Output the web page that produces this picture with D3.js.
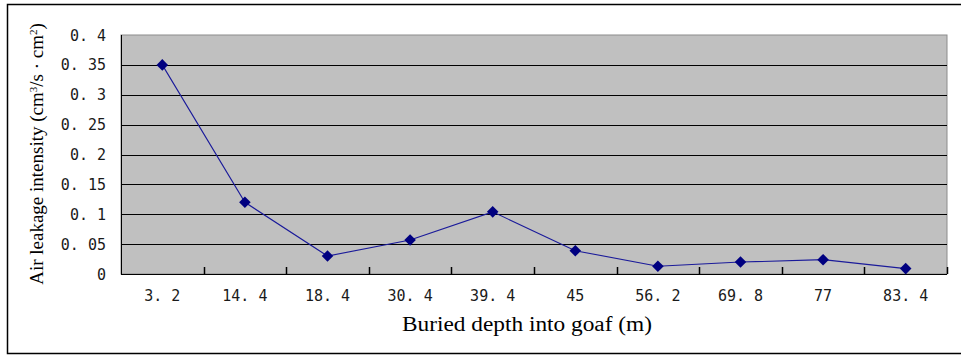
<!DOCTYPE html>
<html>
<head>
<meta charset="utf-8">
<script src="https://cdn.jsdelivr.net/npm/d3@7"></script>
<style>
  body { margin: 0; background: #fff; }
  svg { display: block; }
</style>
</head>
<body>
<svg id="chart" width="961" height="358"></svg>
<script>
// depths along the goaf (category labels)
const depths = ['3.2', '14.4', '18.4', '30.4', '39.4', '45', '56.2', '69.8', '77', '83.4'];
// air leakage intensity
const leakage = [0.35, 0.12, 0.03, 0.057, 0.104, 0.039, 0.013, 0.02, 0.024, 0.009];
const yTicks = [0, 0.05, 0.1, 0.15, 0.2, 0.25, 0.3, 0.35, 0.4];

const svg = d3.select('#chart');

// outer frame (right edge is cut off in the original)
svg.append('path')
  .attr('d', 'M961,4.5 H7.5 V353.5 H961')
  .attr('fill', 'none').attr('stroke', '#000').attr('stroke-width', 1.5);

const plot = {left: 121, top: 35, right: 947, bottom: 274};

const x = d3.scaleBand().domain(depths).range([plot.left, plot.right]);
const y = d3.scaleLinear().domain([0, 0.4]).range([plot.bottom, plot.top]);

// grey plot area
svg.append('rect')
  .attr('x', plot.left).attr('y', plot.top)
  .attr('width', plot.right - plot.left).attr('height', plot.bottom - plot.top)
  .attr('fill', '#c0c0c0').attr('stroke', '#8c8c8c');

// horizontal gridlines
svg.append('g').selectAll('line')
  .data(yTicks.filter(d => d > 0 && d < 0.4))
  .enter().append('line')
  .attr('x1', plot.left).attr('x2', plot.right)
  .attr('y1', d => Math.round(y(d)) + 0.5).attr('y2', d => Math.round(y(d)) + 0.5)
  .attr('stroke', '#000').attr('stroke-width', 1.2);

// left and bottom axis lines
svg.append('line')
  .attr('x1', plot.left + 0.5).attr('x2', plot.left + 0.5)
  .attr('y1', plot.top).attr('y2', plot.bottom)
  .attr('stroke', '#000');
svg.append('line')
  .attr('x1', plot.left).attr('x2', plot.right)
  .attr('y1', plot.bottom + 0.5).attr('y2', plot.bottom + 0.5)
  .attr('stroke', '#000');

// x ticks between categories, pointing up into the plot
svg.append('g').selectAll('line')
  .data(depths.slice(1).concat(['end']))
  .enter().append('line')
  .attr('x1', (d, i) => Math.round(plot.left + x.step() * (i + 1)) + 0.5)
  .attr('x2', (d, i) => Math.round(plot.left + x.step() * (i + 1)) + 0.5)
  .attr('y1', plot.bottom - 7).attr('y2', plot.bottom)
  .attr('stroke', '#000').attr('stroke-width', 1.5);

const mono = '"DejaVu Sans Mono", "Liberation Mono", monospace';

// y tick labels
svg.append('g').selectAll('text')
  .data(yTicks)
  .enter().append('text')
  .attr('x', 106)
  .attr('y', d => y(d) + 5.5)
  .attr('text-anchor', 'end')
  .attr('font-family', mono).attr('font-size', 15)
  .attr('fill', '#1a1a1a')
  .text(d => d === 0 ? '0' : d3.format('.2~f')(d).replace('.', '. '));

// x tick labels
svg.append('g').selectAll('text')
  .data(depths)
  .enter().append('text')
  .attr('x', d => x(d) + x.bandwidth() / 2)
  .attr('y', 300.5)
  .attr('text-anchor', 'middle')
  .attr('font-family', mono).attr('font-size', 15)
  .attr('fill', '#1a1a1a')
  .text(d => d.replace('.', '. '));

// data line
const pts = depths.map((d, i) => [x(d) + x.bandwidth() / 2, y(leakage[i])]);
svg.append('path')
  .datum(pts)
  .attr('d', d3.line())
  .attr('fill', 'none').attr('stroke', '#1a1a9a').attr('stroke-width', 1.1);

// diamond markers
svg.append('g').selectAll('path')
  .data(pts)
  .enter().append('path')
  .attr('transform', d => `translate(${d[0]},${d[1]})`)
  .attr('d', d3.symbol(d3.symbolDiamond2, 85))
  .attr('fill', '#000080');

// axis titles
const serif = '"Liberation Serif", "Times New Roman", serif';
svg.append('text')
  .attr('x', 527).attr('y', 331)
  .attr('text-anchor', 'middle')
  .attr('font-family', serif).attr('font-size', 20)
  .attr('textLength', 250).attr('lengthAdjust', 'spacingAndGlyphs')
  .text('Buried depth into goaf (m)');

const yt = svg.append('text')
  .attr('transform', 'translate(43,154) rotate(-90)')
  .attr('text-anchor', 'middle')
  .attr('font-family', serif).attr('font-size', 19);
yt.append('tspan').text('Air leakage intensity (cm');
yt.append('tspan').attr('baseline-shift', 'super').attr('font-size', 11).text('3');
yt.append('tspan').text('/s · cm');
yt.append('tspan').attr('baseline-shift', 'super').attr('font-size', 11).text('2');
yt.append('tspan').text(')');
</script>
</body>
</html>
